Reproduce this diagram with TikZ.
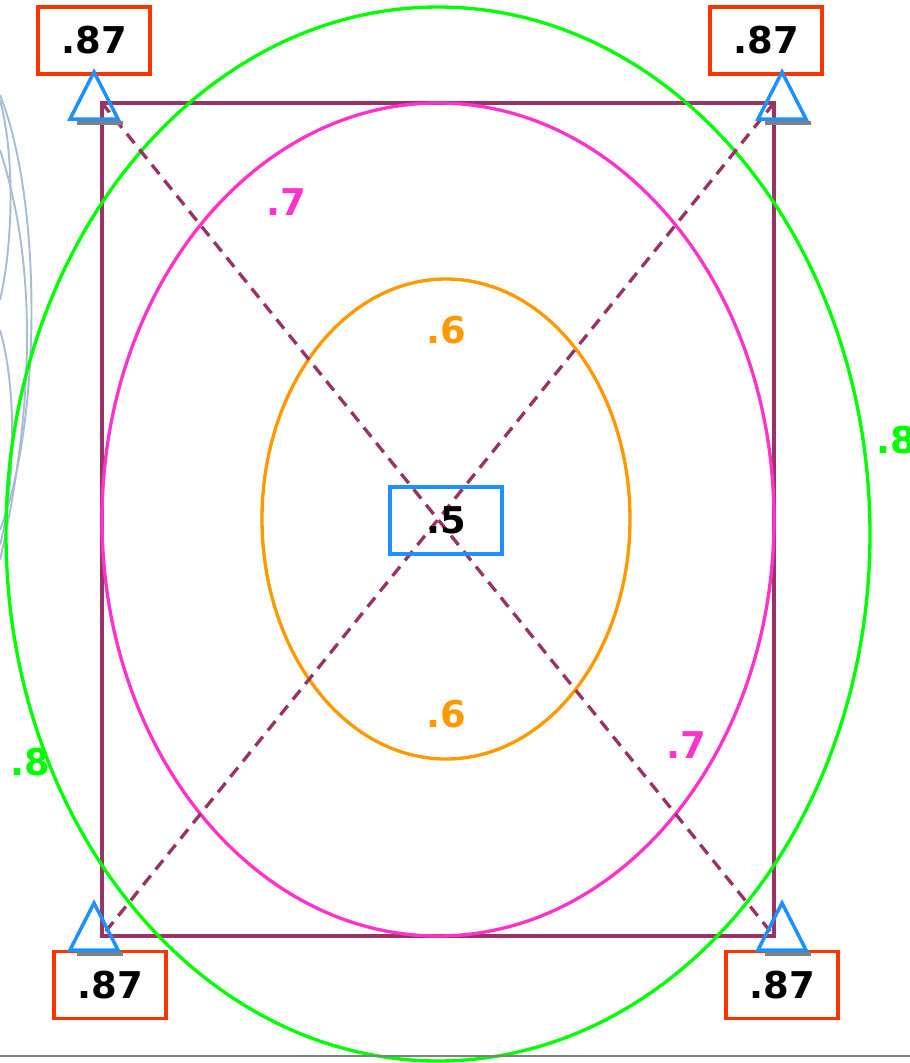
\documentclass[tikz,border=0pt]{standalone}
\usepackage{fontspec}
\setmainfont{DejaVu Sans}
\definecolor{lime1}{RGB}{0,255,0}
\definecolor{pink1}{RGB}{255,51,204}
\definecolor{orange1}{RGB}{255,153,0}
\definecolor{plum1}{RGB}{153,51,102}
\definecolor{sky1}{RGB}{30,144,255}
\definecolor{red1}{RGB}{255,51,0}
\definecolor{haze1}{RGB}{168,188,216}
\usetikzlibrary{positioning}

\begin{document}
\begin{tikzpicture}[
  x=0.02cm, y=-0.02cm,
  lbl/.style={font=\fontsize{21}{24}\selectfont\bfseries, inner sep=0pt},
  valbox/.style={lbl, draw=red1, line width=1.9pt, minimum width=2.24cm, minimum height=1.34cm},
  midbox/.style={lbl, draw=sky1, line width=1.9pt, minimum width=2.24cm, minimum height=1.34cm},
  ring/.style={line width=1.9pt},
  diag/.style={plum1, line width=1.9pt, dash pattern=on 6.8pt off 4.5pt}
]
  \clip (0, 0) rectangle (910, 1063);

  % faint curves at the left edge
  \begin{scope}[haze1, line width=1.1pt]
    \draw (0, 95) .. controls (42, 200) and (42, 420) .. (0, 530);
    \draw (0, 100) .. controls (16, 160) and (12, 250) .. (0, 300);
    \draw (0, 150) .. controls (36, 260) and (36, 400) .. (0, 560);
    \draw (0, 330) .. controls (20, 400) and (12, 500) .. (0, 545);
  \end{scope}

  % corners
  \coordinate (tl) at (102, 103);
  \coordinate (tr) at (774, 103);
  \coordinate (bl) at (102, 936);
  \coordinate (br) at (774, 936);

  \draw[plum1, line width=1.9pt] (tl) rectangle (br);
  \draw[ring, lime1] (438, 534) ellipse [x radius=432, y radius=527];
  \draw[ring, pink1] (438, 519.5) ellipse [x radius=336, y radius=416.5];
  \draw[ring, orange1] (446, 519) ellipse [x radius=184, y radius=240];

  % diagonals
  \draw[diag] (tl) -- (br);
  \draw[diag] (tr) -- (bl);

  % values
  \node[midbox] (mid) at (446, 520.5) {.5};
  \node[valbox] (v1) at (94, 40.5) {.87};
  \node[valbox] (v2) at (766, 40.5) {.87};
  \node[valbox] (v3) at (110, 985) {.87};
  \node[valbox] (v4) at (782, 985) {.87};

  \node[lbl, text=pink1] (p1) at (286, 202) {.7};
  \node[lbl, text=pink1] (p2) at (686, 745) {.7};
  \node[lbl, text=orange1] (o1) at (446, 330) {.6};
  \node[lbl, text=orange1] (o2) at (446, 714) {.6};
  \node[lbl, text=lime1] (g1) at (896, 440) {.8};
  \node[lbl, text=lime1] (g2) at (30, 762) {.8};

  % supports
  \foreach \sx/\sy in {94/119, 782/119, 94/950, 782/950} {
    \draw[gray, line width=2pt] (\sx-17, \sy+4) -- (\sx+29, \sy+4);
    \draw[sky1, line width=2pt, line join=miter] (\sx, \sy-47) -- (\sx+24, \sy) -- (\sx-24, \sy) -- cycle;
  }

  \draw[gray, line width=1.4pt] (0, 1056) -- (910, 1056);
\end{tikzpicture}
\end{document}
